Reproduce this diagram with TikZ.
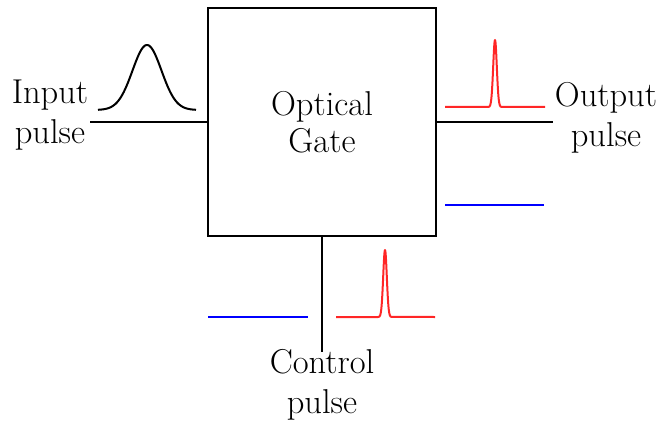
\documentclass[tikz,border=0pt]{standalone}
\begin{document}
\begin{tikzpicture}[x=1pt,y=-1pt,
  wire/.style={line width=2pt,black},
  pulse/.style={line width=2pt,red!85!white,line join=round},
  flat/.style={line width=2pt,blue},
  lbl/.style={align=center,font=\fontsize{34.5}{40}\selectfont,inner sep=0pt}]
\useasboundingbox (0,0) rectangle (659,425);
\node[draw,line width=2pt,minimum width=228pt,minimum height=228pt,align=center,font=\fontsize{34.5}{37}\selectfont] (gate) at (322,122) {Optical\\Gate};
\node[lbl] (in) at (50,115) {Input\\pulse};
\node[lbl] (out) at (606,118) {Output\\pulse};
\node[lbl] (ctl) at (322,385) {Control\\pulse};
\coordinate (inend) at (90,122);
\coordinate (outend) at (553,122);
\coordinate (ctlend) at (322,352);
\draw[wire] (inend) -- (gate.west);
\draw[wire] (gate.east) -- (outend);
\draw[wire] (gate.south) -- (ctlend);
% gaussian input pulse
\draw[line width=2pt] plot[domain=98:196,samples=120,smooth] (\x,{110-65*exp(-((\x-147)/14.5)^2/2)});
% output red pulse
\draw[pulse] (445,107) -- (488,107) plot[domain=488:502,samples=57] (\x,{107-67*exp(-((\x-495)/1.8)^2/2)}) -- (545,107);
\draw[flat] (445,205) -- (544,205);
% control pulses
\draw[flat] (208,317) -- (308,317);
\draw[pulse] (336,317) -- (378,317) plot[domain=378:392,samples=57] (\x,{317-67*exp(-((\x-385)/1.8)^2/2)}) -- (435,317);
\end{tikzpicture}
\end{document}
